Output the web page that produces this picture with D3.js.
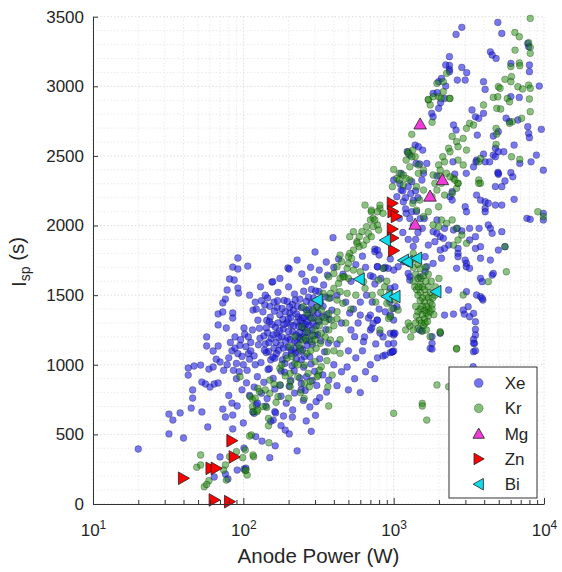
<!DOCTYPE html>
<html>
<head>
<meta charset="utf-8">
<script src="https://cdn.jsdelivr.net/npm/d3@7"></script>
<style>
  body { margin: 0; background: #fff; }
  text { font-family: "Liberation Sans", Arial, sans-serif; fill: #262626; }
</style>
</head>
<body>
<div id="chart"></div>
<script>
// anode power (W), Isp (s)
const xe = [
  [20,395],[32,503],[40,474],[32,646],[34,603],[38,654],[45,689],[53,661],[58,553],[73,682],[76,625],[85,639],[91,704],[84,725],[85,539],[100,582],[101,402],[70,338],[91,244],[64,194],[76,215],[79,180],[101,251],[104,258],[133,452],[150,333],[190,531],[185,632],[158,603],[162,663],[122,711],[118,651],[305,735],
  [43,977],[47,991],[52,998],[43,926],[59,969],[63,984],[53,876],[56,862],[60,840],[64,862],[68,869],[46,819],[46,761],
  [57,1200],[57,1135],[68,1135],[63,1099],[68,1286],[77,1264],[101,1264],[68,1365],[73,1379],[85,1372],[85,1336],[116,1393],[76,1472],[73,1444],[78,1537],[92,1551],[93,1515],[81,1616],[87,1609],[85,1702],[92,1688],[107,1709],[92,1767],
  [80,1050],[84,1100],[88,1120],[92,1080],[95,1140],[98,1060],[90,1010],[86,960],[94,950],[100,1000],[104,1130],[108,1080],[112,1160],[96,1180],[88,1200],[82,1160],[102,1220],[110,1040],[106,960],[120,1000],[78,1000],[74,960],[70,1020],[66,1040],
  [116,661],[124,725],[110,780],[98,820],[105,870],[118,840],[90,900],[80,780],
  [128,1262],[143,1318],[151,1342],[163,1271],[168,1412],[183,1327],[187,1462],[204,1371],[212,1433],[219,1508],[232,1344],[238,1471],[252,1528],[262,1395],[271,1486],[284,1541],[297,1612],[318,1527],[342,1573],[363,1644],
  [126,1143],[137,1207],[147,1096],[153,1188],[167,1226],[177,1142],[184,1257],[197,1194],[206,1287],[213,1236],[227,1306],[236,1231],[247,1337],[253,1262],[268,1356],[274,1283],[292,1387],[308,1415],[333,1346],[352,1487],
  [118,1064],[131,1016],[142,1088],[149,972],[162,1047],[171,1103],[178,956],[192,1067],[198,1126],[211,993],[222,1087],[228,1158],[243,1036],[248,1107],[262,1173],[277,1057],[288,1147],[312,1216],[328,1172],[354,1253],[372,1327],[388,1392],
  [124,914],[137,874],[146,966],[158,903],[176,853],[188,947],[207,887],[218,957],[237,906],[252,983],[263,914],[282,1006],[298,953],[322,1043],[347,1093],[368,1156],
  [132,795],[144,757],[162,826],[178,774],[202,846],[219,797],[243,864],[258,816],[287,887],[308,852],[338,927],
  [141,703],[164,654],[193,724],[213,676],[251,744],[277,697],[322,763],[358,804],
  [152,594],[178,563],[212,624],[262,597],[302,637],[121,484],[163,418],[202,503],[228,382],[283,522],
  [135,1380],[145,1230],[155,1290],[165,1160],[175,1360],[185,1120],[195,1300],[205,1180],[215,1390],[225,1040],[235,1200],[245,1270],[255,1060],[265,1140],[140,1150],[160,1120],[180,1200],[200,1240],[220,1170],[240,1320],[150,1420],[170,1300],[190,1380],[210,1080],[230,1420],[250,1200],[270,1230],[290,1300],[125,1320],[115,1250],[112,1100],[108,1200],[122,1400],[132,1460],[145,1480],[160,1450],
  [138,1105],[148,1160],[158,1215],[166,1080],[174,1245],[182,1035],[191,1170],[199,1330],[208,1105],[216,1280],[224,1215],[233,1090],[241,1185],[249,1295],[258,1230],[266,1310],[276,1180],[286,1250],[296,1340],[306,1280],
  [142,1265],[152,1035],[161,1385],[172,1195],[181,1405],[189,1010],[196,1455],[207,1340],[217,1120],[226,1365],[234,1275],[244,1410],[254,1340],[263,1455],[273,1395],[283,1440],[293,1480],[303,1530],[314,1370],[326,1450],
  [129,1190],[139,1430],[149,1310],[157,1055],[169,1460],[186,1290],[203,1415],[221,1465],[239,1120],[259,1290],[279,1340],[299,1210],[319,1310],[339,1420],[359,1360],[379,1480],
  [155,1594],[198,1695],[228,1752],[300,1810],[356,1738],[245,1652],[200,1560],[170,1520],[260,1600],[280,1700],[320,1680],[140,1500],[120,1450],[110,1500],[130,1560],[175,1620],[395,1913],[157,1597],[202,1688],
  [400,1700],[430,1760],[460,1650],[520,1600],[560,1720],[620,1780],[650,1700],[700,1640],[750,1580],[820,1620],[880,1700],[950,1760],[420,1500],[480,1450],[540,1400],[600,1450],[660,1500],[720,1450],[800,1400],[880,1380],[940,1450],[450,1300],[520,1250],[580,1300],[640,1200],[700,1250],[760,1150],[850,1200],[920,1150],[420,1150],[500,1100],[560,1050],[620,1100],[700,1000],[780,1050],[400,1000],[450,950],[550,900],[650,950],[750,900],[600,800],[500,820],[420,850],
  [750,1831],[780,1704],[730,1632],[510,1372],[600,1357],[680,1336],[775,1321],[715,1264],[810,1228],[1000,1228],[850,1063],[980,1092],[490,984],[370,890],[242,819],[550,1202],[630,1166],[950,1226],[1000,1214],[950,1087],[1000,1099],
  [2840,3424],[2600,3373],[4930,3459],[5240,3380],[2350,3213],[2350,3150],[2350,3120],[2220,3153],[2350,3105],[2840,3136],[3060,3098],[2080,3057],[1990,3033],[2220,3002],[2650,3045],[2990,3045],[1830,2949],[1950,2955],[2180,2913],[2050,2882],[1990,2842],[1790,2806],[1830,2781],[1390,2578],[1460,2566],[1560,2542],[1230,2530],[1280,2506],[1410,2446],[1490,2442],[1660,2446],[1120,2375],[1000,2327],[1580,2375],[3960,3033],[4060,2978],[4400,3248],[4520,3225],[4800,3200],[6020,3164],[6020,2926],[6850,2920],[7800,3308],[7900,3285],[8000,3153],[8000,3105],[9300,3002],[9600,2691],[7800,2710],[7900,2662],[8000,2631],[5600,2771],[5900,2746],[6700,2758],[4970,2675],[4600,2643],[3600,2650],[4750,2555],[4970,2530],[6330,2578],[4600,2506],[4750,2494],[3960,2513],[3560,2470],[4060,2458],[4350,2458],[4930,2382],[4970,2368],[6020,2380],[6200,2350],[6900,2446],[8900,2506],[8200,2458],[9900,2398],[5400,2530],[5500,2320],[4750,2280],[3400,2422],[3530,2458],[2600,2686],[3320,2830],[3500,2781],[3680,2770],[3960,2806],[2500,2722],[2480,2458],
  [1320,2315],[1540,2327],[1940,2356],[2550,2370],[3040,2375],[4970,2375],[6330,2188],[5240,2279],[3560,2219],[3780,2183],[4060,2171],[4060,2123],[4060,2099],[4260,2160],[4750,2147],[5240,2147],[2370,2207],[2450,2183],[2990,2135],[3050,2099],[1940,2040],[2180,1980],[2500,1968],[2650,1980],[2840,1961],[3200,1980],[3700,1980],[4260,2004],[4400,1980],[4520,1944],[5240,1956],[3200,1896],[3500,1920],[2680,1836],[2680,1800],[2680,1776],[2180,1836],[2320,1860],[1700,1860],[1880,1884],[2990,1752],[3050,1728],[3040,1704],[3780,1765],[4400,1752],[4970,1824],[5500,1848],[3780,1621],[3880,1597],[4520,1644],[4600,1656],[3200,1693],[2620,1693],[2080,1765],[2040,1824],[1830,1728],[1660,1704],[3920,1465],[3050,1525],[2320,1537],[2180,1357],[2500,1364],[2950,1364],[3130,1417],[3400,1369],[3500,1309],[3500,1254],[3500,1214],[3450,1154],[3400,1094],[1800,1154],[1750,1118],[1490,1250],[2040,1226],[1020,1226],[1000,1154],[980,1094],[880,1070],[950,1357],[1000,1321],[780,1321],[730,1298],[700,1357],[1050,1417],[1000,1405],[950,1549],[1020,1560],[750,1812],[780,1824],[800,1788],[780,1704],[860,1693],[920,1693],[1070,1704],[1000,1680],[1160,1740],[1280,1728],[1250,1656],[1280,1632],[1280,1608],[1490,1632],[1620,1668],[1620,1776],[1090,2052],[1210,2088],[1320,2099],[1160,2171],[1050,2207],[1120,2255],[2450,2243],[1830,1956],[1940,1944],[2040,1920],[2140,1908],[3780,1848],[3500,1836],[7700,2052],[8100,2045],[9900,2088],[9900,2040],[3560,1501],[3780,1489],[3880,1477],[2900,1393],[3200,1345],
  [1540,1245],[1800,1202],[1800,1113],[3400,1183],[3400,1154],[3500,1101],[3380,986],
  [1100,2300],[1150,2250],[1200,2200],[1250,2280],[1300,2230],[1350,2180],[1400,2250],[1450,2200],[1200,2120],[1280,2050],[1350,2000],[1420,2100],[1500,2050],[1550,1980],[1600,2050],[1450,1950],[1150,1950],[1250,1900],[1350,1850],[1400,1900]
];

const kr = [
  [113,496],[103,388],[90,376],[81,340],[52,352],[49,264],[52,280],[76,280],[74,244],[77,172],[103,239],[106,208],[59,167],[55,124],[57,140],[117,340],[125,831],[115,752],[115,699],[123,663],[95,914],[147,615],[147,562],[110,488],[148,440],[116,352],[99,333],[104,244],[116,663],[125,675],[143,694],[370,704],[365,842],[390,926],[315,926],[254,759],
  [111,771],[128,807],[150,795],[170,771],[205,878],[150,890],[175,855],[205,842],[255,866],[275,842],[175,975],[205,938],[230,914],[270,938],[310,914],[195,1046],[220,1010],[255,998],[300,1022],[330,986],[205,1130],[240,1106],[265,1082],[305,1118],[360,1094],[220,1202],[250,1178],[285,1166],[325,1154],[380,1178],[245,1273],[265,1238],[300,1250],[330,1226],[370,1250],[265,1369],[285,1333],[315,1321],[350,1309],[385,1321],[310,1417],[330,1393],[370,1369],[420,1381],[340,1513],[370,1477],[420,1465],[460,1441],[400,1549],[440,1525],[490,1513],[440,1621],[500,1621],[540,1680],[600,1668],[630,1597],[645,1549],[450,1740],[490,1693],[470,1632],[510,1800],[525,1764],[500,1728],[570,1884],[590,1848],[540,1824],[630,1860],[615,1956],[680,1944],[660,1896],[710,2099],[730,2052],[780,2004],[645,2147],[440,1082],[795,1608],[850,1693],[975,1405],[925,1333],[1020,1465],[1070,1393],
  [810,2123],[780,2099],[700,2040],[660,1992],[710,2111],[590,1920],[540,1956],[510,1920],[570,1872],[440,1788],[500,1776],[420,1704],[400,1656],[370,1632],[460,1632],[430,1585],[380,1513],[290,1393],[250,1417],
  [180,1000],[210,1060],[235,1140],[260,1190],[290,1210],[320,1280],[345,1340],[280,1100],[300,1180],[350,1200],[400,1280],[420,1330],[230,1000],[190,920],[160,860],[140,820],[120,760],[135,700],[165,730],[200,760],[240,800],[280,880],[320,960],[360,1030],[400,1100],[440,1180],[480,1300],[520,1400],[560,1500],
  [810,2147],[850,2088],[750,2040],[730,1992],[795,1968],[710,1920],
  [1000,2403],[1090,2375],[1050,2339],[1090,2327],[980,2279],[1160,2363],[1160,2291],[1250,2530],[1340,2542],[1390,2494],[1210,2470],[1280,2422],[1460,2435],[1580,2398],[1700,2902],[1750,2866],[1990,2926],[2370,2913],[1940,3021],[2140,3033],
  [1830,2363],[2040,2356],[2250,2375],[2500,2339],[2680,2303],[2620,2267],[2450,2231],[2180,2219],[1940,2255],[1800,2207],[1990,2135],[1700,2099],[1580,2064],[1420,2111],[1340,2160],[1490,2183],[1580,2255],[1420,2279],[1280,2327],[3680,2327],[3780,2303],[1830,2004],[1990,1992],[2080,2040],[2250,2016],[2450,2040],[2620,1980],[2840,1932],[3050,1872],[2680,1896],[2500,1860],[5500,1848],[5620,1668],[4260,1597],[2900,1501],[2620,1118],[2040,1238],[1750,1202],[1280,1278],[810,1250],[900,1441],[950,1345],[9100,2099],[9900,2064],
  [1350,1700],[1400,1650],[1450,1620],[1500,1580],[1550,1560],[1600,1540],[1650,1500],[1700,1480],[1750,1450],[1800,1430],[1500,1520],[1550,1480],[1600,1450],[1650,1420],[1700,1400],[1450,1500],[1500,1460],[1550,1420],[1600,1390],[1650,1370],[1700,1350],[1750,1380],[1800,1400],[1850,1360],[1500,1400],[1550,1360],[1600,1330],[1450,1380],[1400,1420],[1420,1350],[1480,1320],[1530,1300],[1580,1280],[1620,1300],[1680,1310],[1350,1600],[1380,1560],[1420,1540],[1460,1560],[1520,1620],[1580,1640],[1640,1600],[1700,1560],[1760,1520],[1820,1480],[1880,1500],[1300,1750],[1350,1800],[1400,1760],[1450,1720],[1500,1690],[1620,1700],[1700,1650],[1780,1600],[1900,1560],[2000,1620],[1400,1300],[1450,1260],[1550,1240],[1650,1250],[1350,1250],
  [720,1500],[760,1450],[820,1520],[870,1560],[900,1600],[940,1520],[1250,1300],[1200,1250],[1300,1200],
  [8100,3488],[6400,3387],[6850,3356],[7900,3313],[8100,3280],[8100,3237],[6420,3260],[6850,3168],[6900,3148],[6020,3142],[5500,3050],[6080,3070],[6020,3033],[4970,2997],[5100,2986],[6700,2997],[7900,3009],[8100,2986],[8000,2909],[7200,2981],[4600,2920],[4930,2925],[5700,2913],[5900,2889],[4850,2842],[5150,2837],[3960,2866],[8100,2818],[6150,2746],[5900,2734],[7100,2770],[4800,2698],[4850,2657],[4800,2583],[6080,2494],[6900,2475],[3200,2734],[3400,2722],[3050,2698],[2900,2626],[2450,2640],[2620,2602],[2680,2566],[3050,2542],[2320,2555],[2370,2530],[2120,2494],[2180,2458],[2680,2470],[2900,2435],[1990,2435],[2040,2398],[2370,2350],[3680,2458],[3780,2482],[2250,3093],[2140,2962],[2070,2913],[1700,2906],[1830,2925],[2350,2913],[1800,2742],[1320,2655],[1250,2518],[1320,2494],[1460,2375],[1210,2339],[2080,2303],[1880,2303],[2680,2303],[2550,2327],[3680,2303],
  [2040,1231],[2620,1113],[1940,855],[2320,842],[1550,723],[1550,704],[1000,651],[1660,603]
];

const mg = [[1500,2730],[2110,2330],[1745,2212],[1390,2010]];
const zn = [[980,2160],[990,2100],[1040,2065],[980,1975],[990,1910],[1000,1820],[84,455],[87,338],[61,256],[66,256],[40,185],[64,29],[81,17]];
const bi = [[880,1895],[1160,1750],[1230,1740],[1420,1765],[590,1615],[310,1465],[900,1490],[1020,1490],[1910,1525]];

const xMajor = [10, 100, 1000, 10000];
const xMinor = [1, 2, 3].flatMap(k => [2, 3, 4, 5, 6, 7, 8, 9].map(m => m * Math.pow(10, k)));
const yMajor = [0, 500, 1000, 1500, 2000, 2500, 3000, 3500];
const yMinor = d3.range(0, 3501, 100);

const legendItems = [
  {name: "Xe", shape: "circle", fill: "#1e1ee6", op: 0.62},
  {name: "Kr", shape: "circle", fill: "#1f8a0a", op: 0.55},
  {name: "Mg", shape: "up", fill: "#f03cd8", op: 1},
  {name: "Zn", shape: "right", fill: "#ff0000", op: 1},
  {name: "Bi", shape: "left", fill: "#10dcec", op: 1}
];

const W = 562, H = 572;
const margin = {left: 93, right: 544, top: 16.7, bottom: 504};

const svg = d3.select("#chart").append("svg")
  .attr("width", W)
  .attr("height", H);

const x = d3.scaleLog().domain([10, 10000]).range([margin.left, margin.right]);
const y = d3.scaleLinear().domain([0, 3500]).range([margin.bottom, margin.top]);

// grid
const grid = svg.append("g")
  .attr("fill", "none")
  .attr("stroke-dasharray", "1.5,2");

grid.selectAll("line.ymin")
  .data(yMinor)
  .join("line")
    .attr("x1", margin.left).attr("x2", margin.right)
    .attr("y1", d => y(d)).attr("y2", d => y(d))
    .attr("stroke", d => d % 500 === 0 ? "#d4d4d4" : "#e4e4e4")
    .attr("stroke-width", 0.8);

grid.selectAll("line.xmin")
  .data(xMinor.concat(xMajor))
  .join("line")
    .attr("y1", margin.top).attr("y2", margin.bottom)
    .attr("x1", d => x(d)).attr("x2", d => x(d))
    .attr("stroke", d => xMajor.includes(d) ? "#d4d4d4" : "#e4e4e4")
    .attr("stroke-width", 0.8);

// triangle paths
function tri(shape, s) {
  if (shape === "up") return `M0,${-s}L${s*1.05},${s*0.85}L${-s*1.05},${s*0.85}Z`;
  if (shape === "right") return `M${s},0L${-s*0.85},${-s*1.05}L${-s*0.85},${s*1.05}Z`;
  return `M${-s},0L${s*0.85},${-s*1.05}L${s*0.85},${s*1.05}Z`;
}

// scatter
svg.append("g")
  .selectAll("circle")
  .data(xe)
  .join("circle")
    .attr("cx", d => x(d[0]))
    .attr("cy", d => y(d[1]))
    .attr("r", 3.4)
    .attr("fill", "#1e1ee6")
    .attr("fill-opacity", 0.6)
    .attr("stroke", "#000")
    .attr("stroke-opacity", 0.35)
    .attr("stroke-width", 0.7);

svg.append("g")
  .selectAll("circle")
  .data(kr)
  .join("circle")
    .attr("cx", d => x(d[0]))
    .attr("cy", d => y(d[1]))
    .attr("r", 3.4)
    .attr("fill", "#1f8a0a")
    .attr("fill-opacity", 0.52)
    .attr("stroke", "#000")
    .attr("stroke-opacity", 0.35)
    .attr("stroke-width", 0.7);

[[mg, "up", "#f03cd8"], [zn, "right", "#ff0000"], [bi, "left", "#10dcec"]].forEach(([data, shape, fill]) => {
  svg.append("g")
    .selectAll("path")
    .data(data)
    .join("path")
      .attr("transform", d => `translate(${x(d[0])},${y(d[1])})`)
      .attr("d", tri(shape, 6))
      .attr("fill", fill)
      .attr("stroke", "#222")
      .attr("stroke-width", 0.8);
});

// axes
const gx = svg.append("g")
  .attr("transform", `translate(0,${margin.bottom})`)
  .call(d3.axisBottom(x).tickValues(xMajor).tickSize(-6).tickSizeOuter(0).tickPadding(20));

gx.selectAll(".tick text")
  .attr("font-size", "17px")
  .attr("fill", "#262626")
  .text(null)
  .call(t => {
    t.append("tspan").text("10");
    t.append("tspan").attr("dy", "-0.55em").attr("font-size", "12px").text(d => Math.round(Math.log10(d)));
  });

svg.append("g")
  .attr("transform", `translate(0,${margin.bottom})`)
  .call(d3.axisBottom(x).tickValues(xMinor).tickSize(-4).tickFormat(() => ""))
  .call(g => g.select(".domain").remove());

const gy = svg.append("g")
  .attr("transform", `translate(${margin.left},0)`)
  .call(d3.axisLeft(y).tickValues(yMajor).tickFormat(d3.format("d")).tickSize(-5).tickSizeOuter(0).tickPadding(9));

gy.selectAll(".tick text")
  .attr("font-size", "17px")
  .attr("fill", "#262626");

svg.selectAll(".domain").attr("stroke", "#333").attr("stroke-width", 1);
svg.selectAll(".tick line").attr("stroke", "#333");
svg.selectAll(".tick text").attr("font-family", "Liberation Sans, Arial, sans-serif");

// axis labels
svg.append("text")
  .attr("x", (margin.left + margin.right) / 2)
  .attr("y", 563)
  .attr("text-anchor", "middle")
  .attr("font-size", "20.5px")
  .text("Anode Power (W)");

const yl = svg.append("text")
  .attr("transform", "translate(25.5,262) rotate(-90)")
  .attr("text-anchor", "middle")
  .attr("font-size", "20.5px");
yl.append("tspan").text("I");
yl.append("tspan").attr("dy", "0.3em").attr("font-size", "14px").text("sp");
yl.append("tspan").attr("dy", "-0.3em").text(" (s)");

// legend
const lg = svg.append("g");
lg.append("rect")
  .attr("x", 449).attr("y", 367)
  .attr("width", 88).attr("height", 131)
  .attr("fill", "#fff")
  .attr("stroke", "#333")
  .attr("stroke-width", 1);

const rows = lg.selectAll("g.row")
  .data(legendItems)
  .join("g")
    .attr("transform", (d, i) => `translate(478.7,${383 + i * 25.3})`);

rows.each(function (d) {
  const g = d3.select(this);
  if (d.shape === "circle") {
    g.append("circle").attr("r", 4.5)
      .attr("fill", d.fill).attr("fill-opacity", d.op)
      .attr("stroke", "#000").attr("stroke-opacity", 0.35).attr("stroke-width", 0.7);
  } else {
    g.append("path").attr("d", tri(d.shape, 5.5))
      .attr("fill", d.fill).attr("stroke", "#222").attr("stroke-width", 0.8);
  }
  g.append("text")
    .attr("x", 26)
    .attr("dy", "0.36em")
    .attr("font-size", "17px")
    .text(d.name);
});
</script>
</body>
</html>
